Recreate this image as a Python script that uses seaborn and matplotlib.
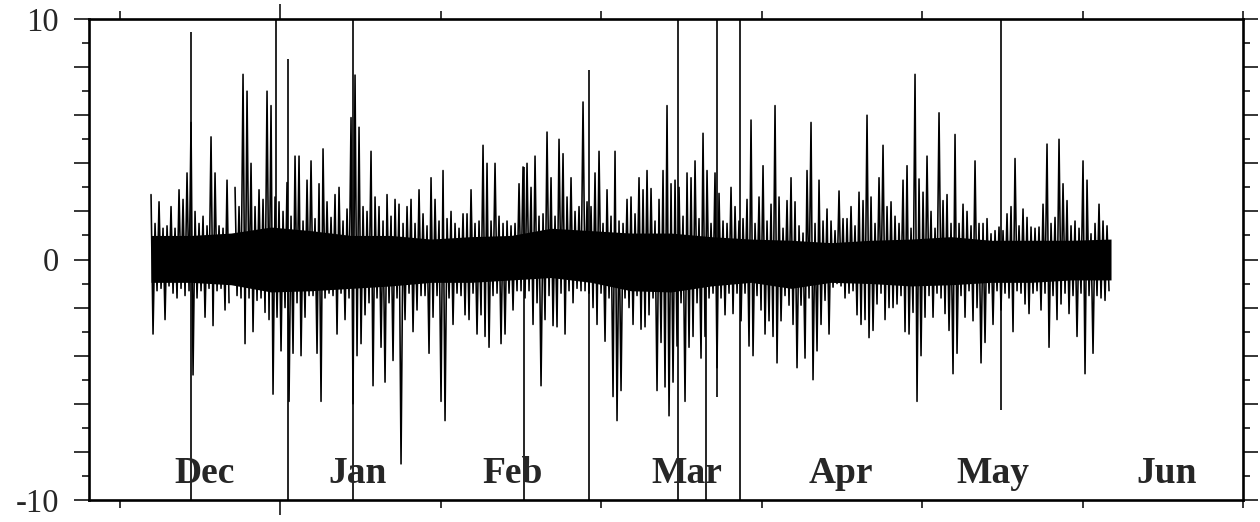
import numpy as np
import pandas as pd
import matplotlib
matplotlib.use("Agg")
import matplotlib.pyplot as plt
import seaborn as sns
from matplotlib.ticker import FixedLocator, FuncFormatter, NullFormatter

sns.set_style("ticks")
plt.rcParams['font.family'] = ['Liberation Serif', 'DejaVu Serif']
plt.rcParams['axes.unicode_minus'] = False

# ---------------- data ----------------
months = ["Dec", "Jan", "Feb", "Mar", "Apr", "May", "Jun"]
month_label_day = [15.9, 44.5, 73.5, 106.0, 134.85, 163.3, 195.8]

x_tick_days = [0, 30, 60, 90, 120, 150, 180, 210]
y_label_values = [-10, 0, 10]

sample_start_day = 5.8
sample_step_day = 0.748

# local maxima / minima of the record in consecutive sample windows
series_hi = [
    2.7, 1.5, 2.4, 1.3, 1.4, 2.2, 1.3, 2.9, 2.5, 3.6,
    5.7, 2.0, 1.5, 1.8, 1.4, 5.1, 3.6, 1.4, 1.3, 3.3,
    np.nan, 3.0, 2.2, 7.7, 7.0, 4.0, 2.2, 2.9, 2.5, 7.0,
    6.4, 2.6, 2.4, 2.0, 3.2, 1.8, 4.3, 4.3, 1.6, 3.3,
    4.1, 1.7, 3.15, 4.6, 2.4, 1.75, 2.7, 3.0, 1.6, 2.1,
    5.9, 7.67, 5.5, 2.2, 2.0, 4.5, 2.6, 2.2, 1.6, 2.7,
    1.8, 2.5, 2.3, 1.5, 2.2, 2.5, 1.5, 2.9, 1.9, 1.4,
    3.4, 2.5, 1.6, 3.7, 1.7, 2.0, 1.5, 1.3, 1.9, 1.9,
    2.9, 1.5, 1.6, 4.75, 4.0, 1.6, 4.0, 1.8, 1.5, 1.6,
    1.4, 1.5, 3.15, 3.85, 4.0, 3.0, 4.3, 1.8, 1.9, 5.3,
    3.4, 1.8, 5.0, 4.4, 2.6, 3.4, 2.0, 2.2, 6.55, 2.4,
    2.2, 3.6, 4.5, 1.5, 2.9, 1.8, 4.5, 1.6, 1.5, 2.5,
    2.6, 1.9, 3.4, 2.9, 3.7, 2.95, 1.6, 2.5, 3.7, 6.4,
    3.15, 3.3, 3.0, 1.8, 3.6, 3.4, 4.1, 1.7, 5.25, 3.7,
    1.5, 3.6, 2.75, 1.6, 1.5, 3.0, 2.2, 1.6, 1.7, 2.5,
    5.8, 1.5, 2.6, 3.9, 1.6, 2.3, 6.4, 2.6, 1.3, 2.45,
    3.4, 2.4, 1.4, 1.1, 3.7, 5.7, 1.5, 3.3, 1.6, 2.1,
    1.6, 1.2, 2.85, 1.7, 1.7, 2.2, 1.4, 2.8, 2.45, 6.0,
    2.6, 1.5, 3.4, 4.75, 2.2, 2.4, 1.8, 1.5, 3.3, 3.9,
    1.3, 7.7, 3.35, 2.8, 4.3, 2.0, 1.3, 6.1, 2.45, 2.7,
    1.5, 5.2, 1.5, 2.3, 2.0, 1.4, 4.1, 1.5, 1.5, 1.7,
    1.07, 1.2, 1.35, 1.2, 1.9, 2.2, 4.2, 1.4, 2.1, 1.75,
    1.35, 1.3, 1.35, 2.3, 4.8, 1.5, 1.75, 5.0, 3.15, 2.45,
    1.4, 1.6, 1.3, 4.1, 3.3, 1.07, 1.5, 2.3, 1.6, 1.4,
]
series_lo = [
    -3.1, -1.3, -1.2, -2.5, -1.1, -1.4, -1.6, -1.2, -1.5, -1.3,
    -4.8, -1.6, -1.3, -2.4, -1.2, -2.75, -1.3, -1.2, -2.1, -1.8,
    np.nan, -1.5, -1.6, -3.5, -1.6, -3.0, -1.7, -1.6, -2.2, -2.5,
    -5.6, -2.4, -3.8, -2.0, -5.9, -3.9, -1.8, -4.0, -2.4, -1.5,
    -1.5, -3.9, -5.9, -1.6, -1.4, -1.5, -3.1, -1.4, -2.5, -1.6,
    -6.0, -4.0, -3.5, -2.3, -1.8, -5.25, -1.6, -3.65, -5.1, -1.8,
    -4.2, -1.6, -8.5, -2.5, -1.4, -3.0, -2.1, -1.5, -1.5, -3.9,
    -2.4, -1.5, -5.9, -6.7, -1.6, -2.7, -1.4, -1.5, -2.3, -2.5,
    -1.4, -3.1, -2.3, -3.2, -3.65, -1.5, -1.4, -3.5, -3.1, -1.4,
    -2.1, -1.3, -1.3, -1.6, -1.3, -2.7, -1.8, -5.25, -2.5, -1.5,
    -2.75, -2.8, -1.4, -3.1, -1.3, -1.8, -1.2, -1.3, -1.3, -1.4,
    -2.0, -2.7, -1.4, -3.4, -1.6, -5.7, -6.7, -5.45, -1.6, -2.0,
    -2.7, -1.5, -2.9, -2.8, -2.3, -1.6, -5.45, -3.45, -5.3, -6.5,
    -5.1, -3.6, -1.8, -5.9, -3.65, -3.2, -1.8, -4.1, -3.2, -1.6,
    -1.4, -4.5, -1.6, -2.3, -1.4, -2.25, -1.4, -2.55, -1.4, -3.6,
    -4.0, -1.5, -2.1, -3.1, -2.55, -3.2, -4.3, -2.55, -1.5, -1.9,
    -2.7, -4.5, -1.9, -4.1, -1.6, -5.0, -3.8, -2.7, -1.7, -3.1,
    -1.15, -1.0, -1.1, -1.6, -1.4, -1.3, -2.3, -2.7, -2.5, -3.25,
    -2.95, -1.85, -1.4, -2.5, -2.0, -2.0, -1.85, -1.5, -3.0, -3.1,
    -2.2, -5.9, -4.0, -2.4, -1.5, -2.4, -1.4, -1.6, -2.25, -2.95,
    -4.75, -3.9, -1.5, -2.4, -1.3, -2.55, -2.0, -4.3, -3.45, -1.4,
    -2.7, -1.3, -2.1, -1.4, -1.6, -3.0, -1.3, -1.4, -1.85, -2.25,
    -1.4, -1.3, -2.1, -1.4, -3.65, -1.5, -2.5, -1.85, -1.4, -2.25,
    -1.5, -3.2, -1.4, -4.75, -1.5, -3.9, -1.5, -1.6, -1.7, -1.3,
]

# edges of the solid black middle of the record, every 10 windows
core_upper = [1.0, 1.0, 1.1, 1.35, 1.2, 1.0, 1.0, 0.85, 0.95, 1.0, 1.3, 1.2, 1.1,
              1.1, 0.95, 0.85, 0.8, 0.7, 0.8, 0.85, 0.95, 0.8, 0.8, 0.8, 0.85]
core_lower = [-0.95, -0.95, -1.05, -1.35, -1.3, -1.2, -1.1, -0.95, -0.95, -0.85, -0.75, -0.95, -1.3,
              -1.35, -1.1, -0.95, -1.2, -0.95, -1.0, -1.1, -1.05, -0.95, -0.95, -0.85, -0.85]

# off-scale excursions (long vertical strokes)
spike_day = [13.28, 29.18, 31.42, 43.52, 75.56, 87.72, 104.36, 109.6, 111.66, 115.96, 164.72]
spike_lo = [-12, 1.0, -12, -12, -12, -12, -12, -12, -5.7, -12, -6.26]
spike_hi = [9.47, 12, 8.33, 12, 3.85, 7.9, 12, -1.0, 12, 12, 12]

# ---------------- build table ----------------
n = len(series_hi)
t_hi = sample_start_day + np.arange(n) * sample_step_day
t_lo = t_hi + sample_step_day / 2
t = np.empty(2 * n)
v = np.empty(2 * n)
t[0::2], t[1::2] = t_hi, t_lo
v[0::2], v[1::2] = series_hi, series_lo
seg = np.cumsum(np.isnan(v))
df = pd.DataFrame({"day": t, "value": v, "seg": seg}).dropna()

core_day = sample_start_day + np.arange(len(core_upper)) * 10 * sample_step_day

# ---------------- figure ----------------
fig = plt.figure(figsize=(12.6, 5.22), dpi=100)
ax = fig.add_axes([89 / 1260, 1 - 500 / 522, (1243 - 89) / 1260, (500 - 19) / 522])

ax.fill_between(core_day, core_lower, core_upper, color="black", lw=0)
sns.lineplot(data=df, x="day", y="value", units="seg", estimator=None,
             color="black", lw=1.15, ax=ax, legend=False)
ax.vlines(spike_day, spike_lo, spike_hi, color="black", lw=1.2)

for m, d in zip(months, month_label_day):
    ax.text(d, -9.3, m, ha="center", va="baseline", fontsize=27,
            fontweight="bold", family=["Liberation Serif", "DejaVu Serif"])

ax.set_xlim(-5.8, 210.0)
ax.set_ylim(-10, 10)
ax.set_xlabel("")
ax.set_ylabel("")

ax.xaxis.set_major_locator(FixedLocator([x_tick_days[1]]))
ax.xaxis.set_minor_locator(FixedLocator([d for d in x_tick_days if d != x_tick_days[1]]))
ax.xaxis.set_major_formatter(NullFormatter())
ax.tick_params(axis="x", which="both", top=True, bottom=True, direction="out",
               labelbottom=False, width=1.1, color="black")
ax.tick_params(axis="x", which="major", length=11)
ax.tick_params(axis="x", which="minor", length=5.5)

ax.yaxis.set_major_locator(FixedLocator(list(range(-10, 11, 2))))
ax.yaxis.set_minor_locator(FixedLocator(list(range(-9, 10, 2))))
ax.yaxis.set_major_formatter(FuncFormatter(lambda val, pos: f"{int(round(val))}" if int(round(val)) in y_label_values else ""))
ax.tick_params(axis="y", which="both", left=True, right=True, direction="out",
               width=1.1, color="black")
ax.tick_params(axis="y", which="major", length=10.5, labelsize=23.5, pad=11)
ax.tick_params(axis="y", which="minor", length=5)

for s in ax.spines.values():
    s.set_linewidth(1.9)
    s.set_color("black")

fig.savefig("out.png", dpi=100)
